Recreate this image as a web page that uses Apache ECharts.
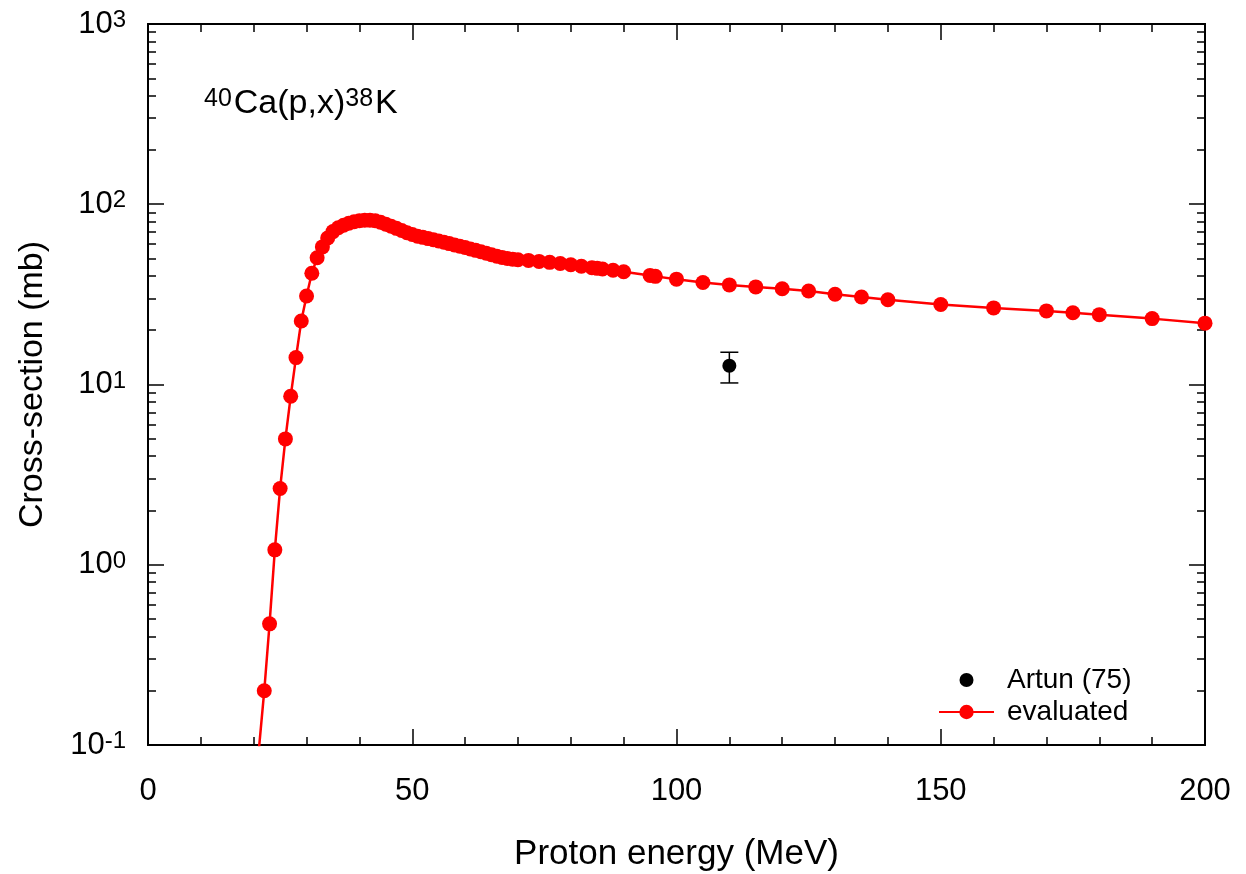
<!DOCTYPE html>
<html><head><meta charset="utf-8">
<script src="https://cdn.jsdelivr.net/npm/echarts@6/dist/echarts.min.js"></script>
<style>html,body{margin:0;padding:0;background:#fff}#c{width:1246px;height:874px}</style>
</head><body><div id="c"></div>
<script>
// Evaluated cross-section (mb) vs proton energy (MeV)
const evalEnergy = [20, 22, 23, 24, 25, 26, 27, 28, 29, 30, 31, 32, 33, 34, 35, 36, 37, 38, 39, 40,
  41, 42, 43, 44, 45, 46, 47, 48, 49, 50, 51, 52, 53, 54, 55, 56, 57, 58, 59, 60,
  61, 62, 63, 64, 65, 66, 67, 68, 69, 70, 72, 74, 76, 78, 80, 82, 84, 85, 86, 88,
  90, 95, 96, 100, 105, 110, 115, 120, 125, 130, 135, 140, 150, 160, 170, 175, 180, 190, 200];
const evalValue = [0.046, 0.20, 0.47, 1.21, 2.65, 4.99, 8.6, 14.1, 22.5, 31, 41.4, 50.5, 58, 65, 70.5, 74, 76.5, 78.5, 80, 81,
  81.5, 81.5, 81, 79.5, 77.5, 75.5, 73.5, 71.5, 69.5, 68, 66.5, 65.5, 64.5, 63.5, 62.5, 61.5, 60.5, 59.5, 58.5, 57.5,
  56.5, 55.5, 54.5, 53.5, 52.5, 51.5, 50.7, 50, 49.5, 49.2, 48.8, 48.2, 47.6, 46.9, 46.2, 45.3, 44.5, 44.1, 43.7, 43.0,
  42.2, 40.3, 39.8, 38.4, 36.8, 35.7, 34.8, 34.0, 33.0, 31.7, 30.6, 29.5, 27.8, 26.6, 25.6, 25.0, 24.4, 23.2, 21.9];
// Experimental point: Artun (75)
const artunEnergy = [110];
const artunValue = [12.7];
const artunLow = [10.2];
const artunHigh = [15.1];
// Axis ticks
const xTickInterval = 50;
const yMajorTicks = [0.1, 1, 10, 100, 1000];
const yMinorTicks = [];
[0.1, 1, 10, 100].forEach(d => { for (let k = 2; k <= 9; k++) yMinorTicks.push(+(d * k).toPrecision(3)); });

const FONT = '"Liberation Sans", Arial, sans-serif';
const chart = echarts.init(document.getElementById('c'), null, {renderer: 'canvas'});

function xAxisCfg(pos, withLabels) {
  return {
    type: 'value', position: pos, min: 0, max: 200, interval: xTickInterval,
    axisLine: {show: true, onZero: false, lineStyle: {color: '#000', width: 2}},
    axisTick: {show: true, inside: true, length: 16, lineStyle: {color: '#000', width: 1.5}},
    minorTick: {show: true, splitNumber: 5, length: 8, lineStyle: {color: '#000', width: 1.5}},
    splitLine: {show: false}, minorSplitLine: {show: false},
    axisLabel: {show: withLabels, fontFamily: FONT, fontSize: 31, color: '#000', margin: 31},
    name: withLabels ? 'Proton energy (MeV)' : '', nameLocation: 'middle', nameGap: 92,
    nameTextStyle: {fontFamily: FONT, fontSize: 35, color: '#000'}
  };
}
function yAxisCfg(pos, major, withLabels) {
  return {
    type: 'log', logBase: 10, position: pos, min: 0.1, max: 1000,
    axisLine: {show: true, onZero: false, lineStyle: {color: '#000', width: 2}},
    axisTick: {show: true, inside: true, length: major ? 16 : 8,
      customValues: major ? yMajorTicks : yMinorTicks, lineStyle: {color: '#000', width: 1.5}},
    splitLine: {show: false},
    axisLabel: {show: withLabels, customValues: yMajorTicks, margin: 22,
      formatter: v => '{b|10}{s|' + Math.round(Math.log10(v)) + '}',
      rich: {b: {fontFamily: FONT, fontSize: 31, color: '#000'},
             s: {fontFamily: FONT, fontSize: 24, color: '#000', verticalAlign: 'top'}}},
    name: withLabels ? 'Cross-section (mb)' : '', nameLocation: 'middle', nameGap: 98,
    nameTextStyle: {fontFamily: FONT, fontSize: 34, color: '#000'}
  };
}

const option = {
  animation: false,
  backgroundColor: '#fff',
  grid: {left: 148, right: 41, top: 24, bottom: 129, containLabel: false, outerBoundsMode: 'none'},
  title: {
    text: '{s|40}{b|Ca(p,x)}{s|38}{b|K}', left: 199, top: 82,
    textStyle: {fontWeight: 'normal', rich: {
      b: {fontFamily: FONT, fontSize: 34, fontWeight: 'normal', color: '#000'},
      s: {fontFamily: FONT, fontSize: 25, fontWeight: 'normal', color: '#000', verticalAlign: 'top', padding: [0, 2, 0, 0]}}}
  },
  legend: {
    orient: 'vertical', left: 933, top: 661, itemWidth: 55, itemHeight: 18, itemGap: 4,
    data: [
      {name: 'Artun (75)', icon: 'path://M0 0M18 18M9 2A7 7 0 1 1 9 16A7 7 0 1 1 9 2Z'},
      {name: 'evaluated'}
    ],
    textStyle: {fontFamily: FONT, fontSize: 28, color: '#000', padding: [0, 0, 0, 8]}
  },
  xAxis: [xAxisCfg('bottom', true), xAxisCfg('top', false)],
  yAxis: [yAxisCfg('left', true, true), yAxisCfg('left', false, false),
          yAxisCfg('right', true, false), yAxisCfg('right', false, false)],
  series: [
    {
      name: 'evaluated', type: 'line', xAxisIndex: 0, yAxisIndex: 0,
      data: evalEnergy.map((e, i) => [e, evalValue[i]]),
      symbol: 'circle', symbolSize: 15, showAllSymbol: true, clip: true,
      lineStyle: {color: '#ff0000', width: 2.5}, itemStyle: {color: '#ff0000', opacity: 1}
    },
    {
      name: 'Artun (75)', type: 'scatter', xAxisIndex: 0, yAxisIndex: 0, z: 5,
      data: artunEnergy.map((e, i) => [e, artunValue[i]]),
      symbol: 'circle', symbolSize: 14, itemStyle: {color: '#000', opacity: 1}
    },
    {
      name: 'Artun error', type: 'custom', xAxisIndex: 0, yAxisIndex: 0, z: 4,
      data: artunEnergy.map((e, i) => [e, artunLow[i], artunHigh[i]]),
      renderItem: (params, api) => {
        const x = api.value(0);
        const p1 = api.coord([x, api.value(1)]);
        const p2 = api.coord([x, api.value(2)]);
        const w = 9;
        const st = {stroke: '#000', lineWidth: 1.5};
        return {type: 'group', children: [
          {type: 'line', shape: {x1: p1[0], y1: p1[1], x2: p2[0], y2: p2[1]}, style: st},
          {type: 'line', shape: {x1: p1[0] - w, y1: p1[1], x2: p1[0] + w, y2: p1[1]}, style: st},
          {type: 'line', shape: {x1: p2[0] - w, y1: p2[1], x2: p2[0] + w, y2: p2[1]}, style: st}
        ]};
      }
    }
  ]
};
chart.setOption(option);
</script>
</body></html>
